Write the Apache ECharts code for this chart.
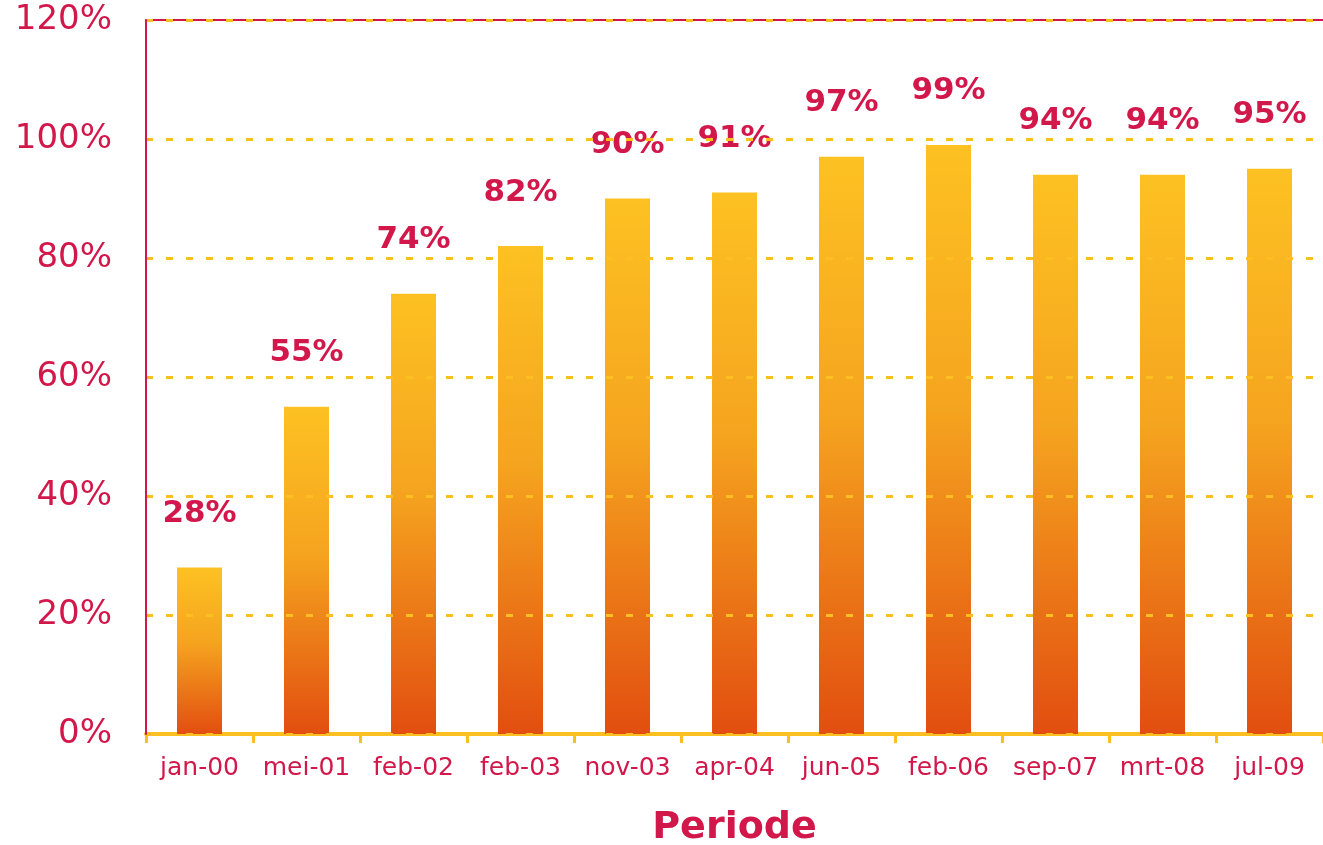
<!DOCTYPE html>
<html><head><meta charset="utf-8">
<script src="https://cdn.jsdelivr.net/npm/echarts@6/dist/echarts.min.js"></script>
<style>html,body{margin:0;padding:0;background:#fff;overflow:hidden}#c{width:1323px;height:845px}</style>
</head><body><div id="c"></div>
<script>
const categories = ['jan-00','mei-01','feb-02','feb-03','nov-03','apr-04','jun-05','feb-06','sep-07','mrt-08','jul-09'];
const values = [28,55,74,82,90,91,97,99,94,94,95];
const yTicks = [0,20,40,60,80,100,120];
const axisTitle = 'Periode';

const RED = '#D2184A';
const YEL = '#FCBF22';
const chart = echarts.init(document.getElementById('c'), null, {renderer:'canvas', width:1323, height:845});
chart.setOption({
  animation:false,
  grid:{left:146, top:20, width:1177, height:714, containLabel:false, outerBoundsMode:'none'},
  xAxis:[{
    type:'category', data:categories, boundaryGap:true,
    axisLine:{show:true, lineStyle:{color:YEL, width:4}},
    axisTick:{show:true, length:9, lineStyle:{color:YEL, width:3}},
    axisLabel:{color:RED, fontFamily:'DejaVu Sans', fontSize:25, margin:22, interval:0, hideOverlap:false},
    name:axisTitle, nameLocation:'middle', nameGap:75,
    nameTextStyle:{color:RED, fontFamily:'DejaVu Sans', fontWeight:'bold', fontSize:38}
  },{
    type:'category', data:categories, position:'top',
    axisLine:{show:true, lineStyle:{color:RED, width:2}},
    axisTick:{show:false}, axisLabel:{show:false}
  }],
  yAxis:{
    type:'value', min:0, max:120, interval:20,
    axisLine:{show:true, lineStyle:{color:RED, width:2}},
    axisTick:{show:false},
    axisLabel:{color:RED, fontFamily:'DejaVu Sans', fontSize:34, margin:34,
      formatter:v=> yTicks.includes(v) ? v+'%' : ''},
    splitLine:{show:true, lineStyle:{color:YEL, width:3, type:[7,13]}},
    z:5
  },
  series:[{
    type:'bar', data:values, barWidth:45,
    itemStyle:{color:new echarts.graphic.LinearGradient(0,0,0,1,[
      {offset:0, color:'#FDC122'},{offset:0.45, color:'#F5A41F'},{offset:1, color:'#E24E10'}])},
    label:{show:true, position:'top', distance:38, formatter:'{c}%', color:RED,
      fontFamily:'DejaVu Sans', fontWeight:'bold', fontSize:31}
  }]
});
</script></body></html>
